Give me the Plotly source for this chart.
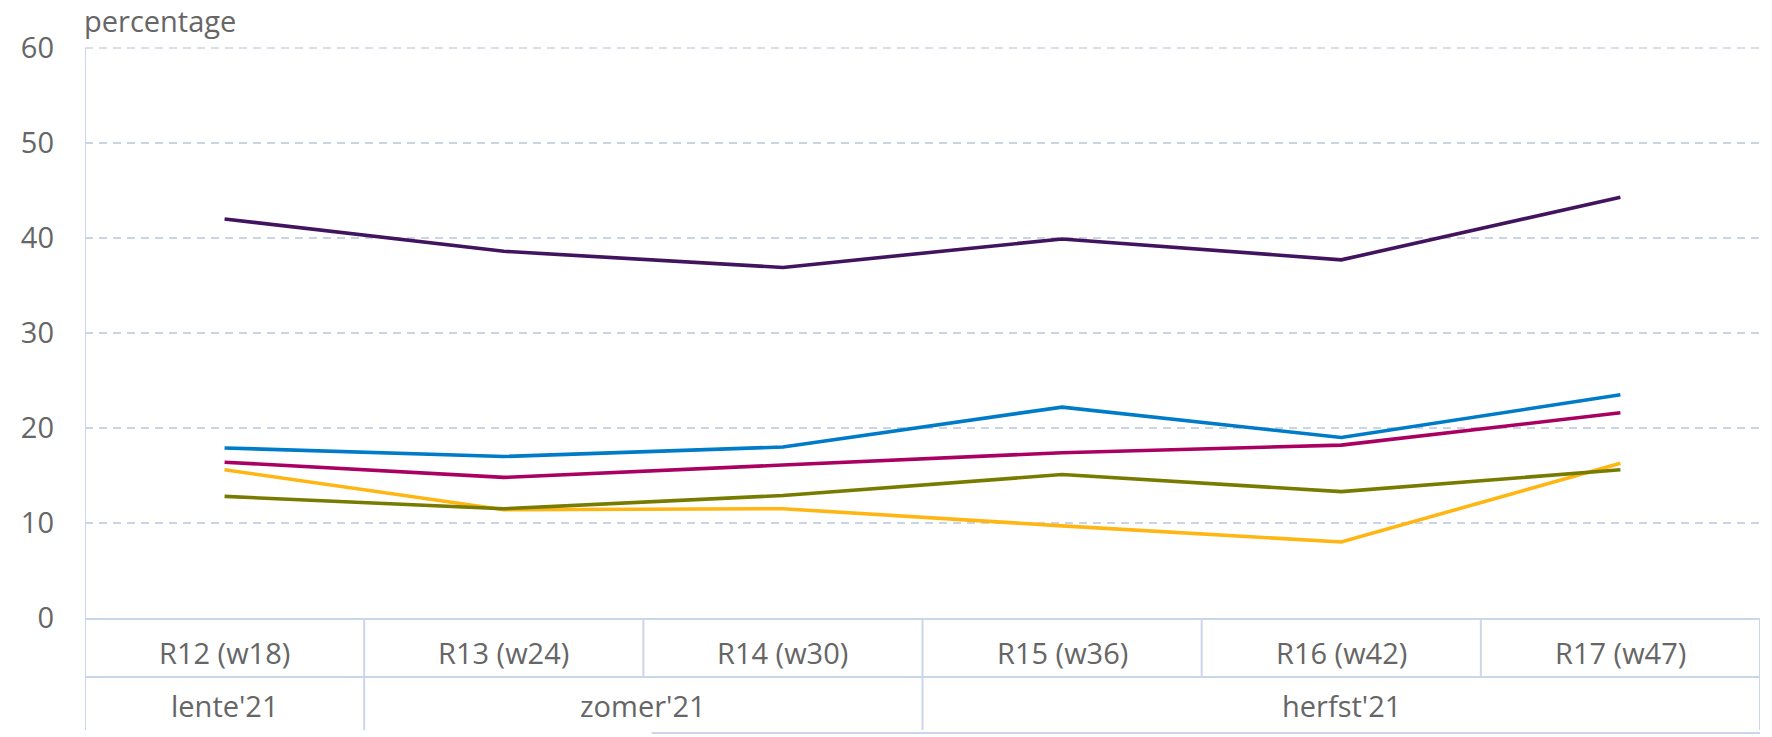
import plotly.graph_objects as go

# ---- data ----
categories = ["R12 (w18)", "R13 (w24)", "R14 (w30)", "R15 (w36)", "R16 (w42)", "R17 (w47)"]
seasons = ["lente'21", "zomer'21", "herfst'21"]
season_spans = [(0, 0), (1, 2), (3, 5)]  # first/last category index of each season

serie_paars = [42.0, 38.6, 36.9, 39.9, 37.7, 44.3]
serie_blauw = [17.9, 17.0, 18.0, 22.2, 19.0, 23.5]
serie_violet = [16.4, 14.8, 16.1, 17.4, 18.2, 21.6]
serie_groen = [12.8, 11.5, 12.9, 15.1, 13.3, 15.6]
serie_geel = [15.6, 11.4, 11.5, 9.7, 8.0, 16.3]

y_ticks = [0, 10, 20, 30, 40, 50, 60]
y_title = "percentage"

# ---- styling ----
colors = ["#42145f", "#007bc7", "#a90061", "#777c00", "#ffb612"]
series = [serie_paars, serie_blauw, serie_violet, serie_groen, serie_geel]
names = ["paars", "blauw", "violet", "groen", "geel"]
draw_order = [4, 3, 2, 1, 0]

FONT = "Open Sans"
TXT = "#666666"
GRID = "#c9d5e5"
LINE = "#cbd6ea"
FS = 29
DASH = "8px,6px"

W, H = 1772, 737
ML, MR, MT, MB = 85, 12, 48, 119
plot_h = H - MT - MB


def py(pix):
    """pixel y (from top) -> paper coordinate"""
    return (H - MB - pix) / plot_h


fig = go.Figure()
for i in draw_order:
    fig.add_trace(go.Scatter(
        x=categories, y=series[i], mode="lines", name=names[i],
        line=dict(color=colors[i], width=3.6), hoverinfo="x+y+name"))

row1_bottom = py(677)
row2_bottom = py(730)
shapes = []
n = len(categories)
# top gridline at the upper range edge (paper-referenced so it is not clipped)
shapes.append(dict(type="line", xref="paper", yref="paper", x0=0, x1=1,
                   y0=1, y1=1, layer="below",
                   line=dict(color=GRID, width=1.5, dash=DASH)))
shapes.append(dict(type="line", xref="x", yref="paper", x0=-0.5, x1=n - 0.5,
                   y0=row1_bottom, y1=row1_bottom, line=dict(color=LINE, width=2)))
shapes.append(dict(type="line", xref="x", yref="paper", x0=1.53, x1=n - 0.5,
                   y0=py(733), y1=py(733), line=dict(color=LINE, width=2)))
shapes.append(dict(type="line", xref="x", yref="paper", x0=-0.5, x1=-0.5,
                   y0=1, y1=row2_bottom, line=dict(color=LINE, width=2)))
group_bounds = set(s[1] + 0.5 for s in season_spans)
for k in range(n):
    b = k + 0.5
    yb = row2_bottom if b in group_bounds else row1_bottom
    shapes.append(dict(type="line", xref="x", yref="paper", x0=b, x1=b,
                       y0=0, y1=yb, line=dict(color=LINE, width=2)))

annotations = []
for k, c in enumerate(categories):
    annotations.append(dict(x=c, y=py(652), xref="x", yref="paper", text=c,
                            showarrow=False, xanchor="center", yanchor="middle",
                            font=dict(family=FONT, size=FS, color=TXT)))
for s, (a, b) in zip(seasons, season_spans):
    annotations.append(dict(x=(a + b) / 2, y=py(705), xref="x", yref="paper", text=s,
                            showarrow=False, xanchor="center", yanchor="middle",
                            font=dict(family=FONT, size=FS, color=TXT)))
annotations.append(dict(x=0, y=py(20), xref="paper", yref="paper", text=y_title,
                        showarrow=False, xanchor="left", yanchor="middle", xshift=-3,
                        font=dict(family=FONT, size=FS, color=TXT)))

fig.update_layout(
    width=W, height=H,
    margin=dict(l=ML, r=MR, t=MT, b=MB, pad=0),
    paper_bgcolor="white", plot_bgcolor="white",
    showlegend=False,
    shapes=shapes, annotations=annotations,
    xaxis=dict(type="category", range=[-0.5, n - 0.5], showgrid=False, zeroline=False,
               showticklabels=False, ticks="", showline=True, linecolor=LINE, linewidth=2,
               fixedrange=True),
    yaxis=dict(range=[0, 60], tickvals=y_ticks, showgrid=True, gridcolor=GRID, gridwidth=1.5,
               griddash=DASH, zeroline=False, showline=False, ticks="",
               ticklabelstandoff=30,
               tickfont=dict(family=FONT, size=FS, color=TXT), fixedrange=True),
)

fig.write_html("out.html", config={"displayModeBar": False},
               post_script="document.body.style.margin='0';")
